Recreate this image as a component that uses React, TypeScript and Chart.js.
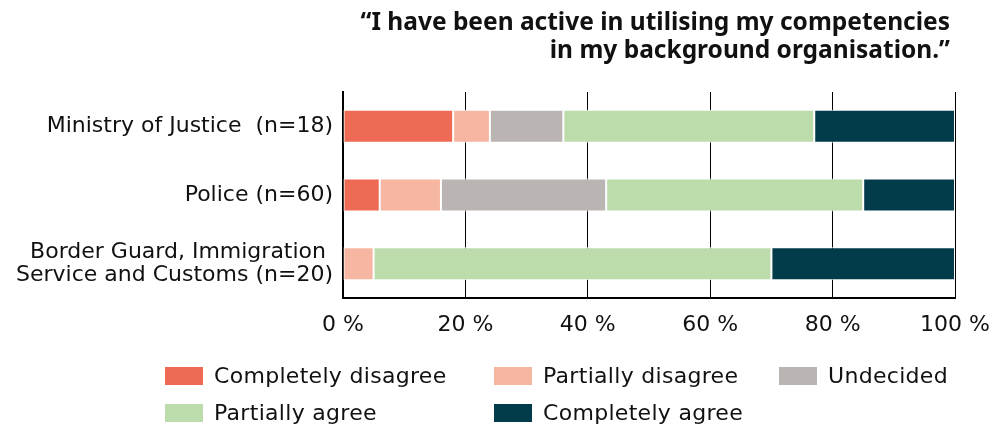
import React, { useEffect, useRef } from "react";
import { Chart, registerables } from "chart.js";

Chart.register(...registerables);

const titleLines = ["\u201cI have been active in utilising my competencies", "in my background organisation.\u201d"];
const categories = [["Ministry of Justice  (n=18)"], ["Police (n=60)"], ["Border Guard, Immigration ", "Service and Customs (n=20)"]];
const seriesNames = ["Completely disagree", "Partially disagree", "Undecided", "Partially agree", "Completely agree"];
const seriesColors = ["#EF6A55", "#F6B6A1", "#BAB5B2", "#BCDCAB", "#023B4A"];
const completelyDisagree = [18, 6, 0];
const partiallyDisagree = [6, 10, 5];
const undecided = [12, 27, 0];
const partiallyAgree = [41, 42, 65];
const completelyAgree = [23, 15, 30];
const xTickValues = [0, 20, 40, 60, 80, 100];

const seriesValues = [completelyDisagree, partiallyDisagree, undecided, partiallyAgree, completelyAgree];

const FONT = "'DejaVu Sans', sans-serif";
const TITLE_FONT = "'Noto Sans', sans-serif";

export default function App() {
  const ref = useRef<HTMLCanvasElement | null>(null);

  useEffect(() => {
    if (!ref.current) return;
    const chart = new Chart(ref.current, {
      type: "bar",
      data: {
        labels: categories,
        datasets: seriesNames.map((name, i) => ({
          label: name,
          data: seriesValues[i],
          backgroundColor: seriesColors[i],
          borderColor: "#ffffff",
          borderWidth: 1,
          borderSkipped: false,
          categoryPercentage: 1,
          barPercentage: 0.48,
        })),
      },
      options: {
        indexAxis: "y",
        responsive: false,
        animation: false,
        devicePixelRatio: 1,
        layout: { padding: { left: 0, right: 42, top: 92, bottom: 0 } },
        plugins: {
          legend: { display: false },
          tooltip: { enabled: false },
          title: { display: false },
        },
        scales: {
          y: {
            stacked: true,
            grid: { display: false, drawTicks: false },
            border: { display: true, color: "#000000", width: 2 },
            ticks: { color: "#111111", font: { family: FONT, size: 22, lineHeight: 1.05 }, padding: 10 },
            afterFit: (s: any) => {
              s.width = 343;
              s.paddingTop = 0;
              s.paddingBottom = 0;
            },
          },
          x: {
            stacked: true,
            min: 0,
            max: 100,
            afterBuildTicks: (s: any) => {
              s.ticks = xTickValues.map((v) => ({ value: v }));
            },
            grid: { color: "#000000", lineWidth: 1, drawTicks: false },
            border: { display: true, color: "#000000", width: 2 },
            ticks: {
              color: "#111111",
              font: { family: FONT, size: 22 },
              padding: 14,
              callback: (v: any) => v + " %",
            },
            afterFit: (s: any) => {
              s.height = 132;
              s.paddingLeft = 0;
              s.paddingRight = 0;
            },
          },
        },
      },
    });
    return () => chart.destroy();
  }, []);

  const legendPos = [
    { left: 165, top: 367 },
    { left: 494, top: 367 },
    { left: 779, top: 367 },
    { left: 165, top: 404 },
    { left: 494, top: 404 },
  ];

  return (
    <div style={{ position: "absolute", left: 0, top: 0, width: 997, height: 430, background: "#fff" }}>
      <canvas ref={ref} width={997} height={430} style={{ position: "absolute", left: 0, top: 0 }} />
      <div
        style={{
          position: "absolute",
          right: 47,
          top: 7,
          textAlign: "right",
          fontFamily: TITLE_FONT,
          fontWeight: 700,
          fontSize: 24.5,
          lineHeight: "28px",
          color: "#111111",
          whiteSpace: "nowrap",
        }}
      >
        {titleLines.map((t, i) => (
          <div key={i}>{t}</div>
        ))}
      </div>
      {seriesNames.map((name, i) => (
        <div
          key={name}
          style={{
            position: "absolute",
            left: legendPos[i].left,
            top: legendPos[i].top,
            height: 18,
            display: "flex",
            alignItems: "center",
            whiteSpace: "nowrap",
          }}
        >
          <div style={{ width: 38, height: 18, background: seriesColors[i] }} />
          <div
            style={{
              marginLeft: 11,
              fontFamily: FONT,
              fontSize: 22,
              letterSpacing: "0.3px",
              color: "#111111",
              lineHeight: "18px",
            }}
          >
            {name}
          </div>
        </div>
      ))}
    </div>
  );
}
